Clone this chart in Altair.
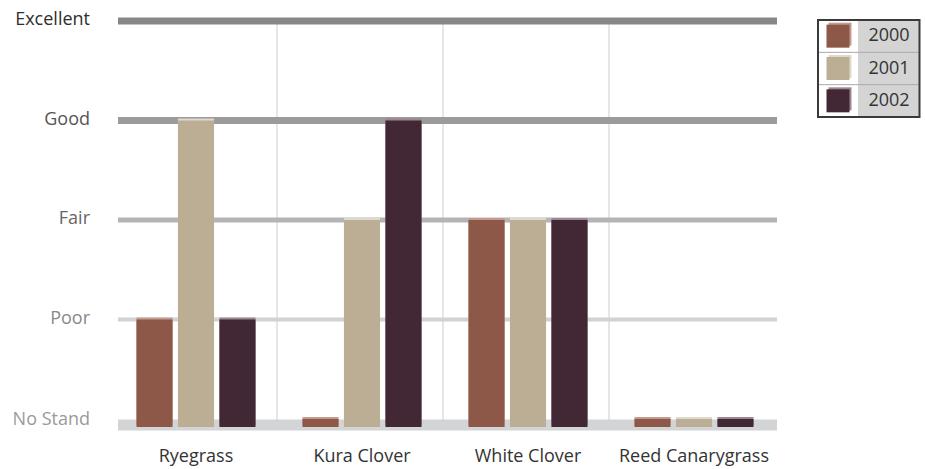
import altair as alt
import pandas as pd

# Stand ratings per crop and year (0 = No Stand ... 4 = Excellent)
crops = ["Ryegrass", "Kura Clover", "White Clover", "Reed Canarygrass"]
years = ["2000", "2001", "2002"]
rating_2000 = [1, 0, 2, 0]
rating_2001 = [3, 2, 2, 0]
rating_2002 = [1, 3, 2, 0]

levels = ["No Stand", "Poor", "Fair", "Good", "Excellent"]
level_values = [0, 1, 2, 3, 4]

# styling
FONT = "Open Sans"
fill_colors = ["#8e5849", "#bcae94", "#412834"]
edge_colors = ["#c49b90", "#dedacb", "#9b8692"]
grid_colors = ["#d3d4d6", "#d2d2d2", "#b4b4b4", "#9b9b9b", "#878787"]
grid_widths = [11, 4, 5, 7, 7]
label_colors = ["#9a9a9a", "#888888", "#666666", "#555555", "#2e2e2e"]

W, H = 664, 406
Y_MIN = -0.08

bars = pd.DataFrame({
    "crop": crops * 3,
    "year": [y for y in years for _ in crops],
    "rating": rating_2000 + rating_2001 + rating_2002,
})
bars["fill"] = bars["year"].map(dict(zip(years, fill_colors)))
bars["edge"] = bars["year"].map(dict(zip(years, edge_colors)))

grid = pd.DataFrame({
    "level": levels,
    "value": level_values,
    "gcolor": grid_colors,
    "gwidth": grid_widths,
    "lcolor": label_colors,
})

crop_df = pd.DataFrame({"crop": crops})

x_enc = alt.X("crop:N", sort=crops,
              scale=alt.Scale(domain=crops, paddingInner=0, paddingOuter=0),
              axis=None)
y_scale = alt.Scale(domain=[Y_MIN, 4], nice=False, zero=False)
y_enc = alt.Y("value:Q", scale=y_scale, axis=None)
x_off = alt.XOffset("year:N", sort=years,
                    scale=alt.Scale(domain=years, paddingInner=0.13, paddingOuter=0.566))

# vertical separators between crops
vlines = alt.Chart(crop_df[crop_df["crop"] != crops[0]]).mark_rule(
    color="#dedede", strokeWidth=1.5, xOffset=-2
).encode(
    x=alt.X("crop:N", sort=crops, bandPosition=0,
            scale=alt.Scale(domain=crops, paddingInner=0, paddingOuter=0), axis=None),
    y=alt.value(0),
    y2=alt.value(400),
)

# rating gridlines
hlines = alt.Chart(grid[grid["value"] > 0]).mark_rule().encode(
    y=y_enc,
    x=alt.value(5),
    x2=alt.value(W),
    color=alt.Color("gcolor:N", scale=None),
    strokeWidth=alt.StrokeWidth("gwidth:Q", scale=None),
)
base_band = alt.Chart(grid[grid["value"] == 0]).mark_rule(yOffset=6).encode(
    y=y_enc,
    x=alt.value(5),
    x2=alt.value(W),
    color=alt.Color("gcolor:N", scale=None),
    strokeWidth=alt.StrokeWidth("gwidth:Q", scale=None),
)

# bars: light edge behind, main fill on top
bar_y = alt.Y("rating:Q", scale=y_scale, axis=None)
bar_edge = alt.Chart(bars).mark_bar(xOffset=2, yOffset=-2, y2Offset=-2).encode(
    x=x_enc, xOffset=x_off, y=bar_y, y2=alt.datum(Y_MIN),
    color=alt.Color("edge:N", scale=None),
)
bar_fill = alt.Chart(bars).mark_bar().encode(
    x=x_enc, xOffset=x_off, y=bar_y, y2=alt.datum(Y_MIN),
    color=alt.Color("fill:N", scale=None),
)

# rating labels on the left
ylab = alt.Chart(grid[grid["value"] > 0]).mark_text(
    font=FONT, fontSize=18, align="right", baseline="middle", dy=-1
).encode(
    y=y_enc, x=alt.value(-23), text="level:N",
    color=alt.Color("lcolor:N", scale=None),
)
ylab0 = alt.Chart(grid[grid["value"] == 0]).mark_text(
    font=FONT, fontSize=18, align="right", baseline="middle", dy=1
).encode(
    y=y_enc, x=alt.value(-23), text="level:N",
    color=alt.Color("lcolor:N", scale=None),
)

# crop labels along the bottom
xlab = alt.Chart(crop_df).mark_text(
    font=FONT, fontSize=18, color="#333333", baseline="middle"
).encode(x=x_enc, y=alt.value(436), text="crop:N")

main = alt.layer(vlines, hlines, base_band, bar_edge, bar_fill, ylab, ylab0, xlab)

# legend box
leg = pd.DataFrame({"year": years, "fill": fill_colors, "edge": edge_colors})
leg_y_scale = alt.Scale(domain=years, range=[-1, 96], paddingInner=0, paddingOuter=0)
leg_y = alt.Y("year:N", sort=years, scale=leg_y_scale, axis=None)

leg_bg = alt.Chart(leg).mark_rect(color="#d4d4d4").encode(
    y=leg_y, x=alt.value(745), x2=alt.value(806),
)
leg_sep = alt.Chart(leg[leg["year"] != years[0]]).mark_rule(
    color="#a9a9a9", strokeWidth=1
).encode(
    y=alt.Y("year:N", sort=years, scale=leg_y_scale, axis=None, bandPosition=0),
    x=alt.value(705), x2=alt.value(806),
)
leg_edge = alt.Chart(leg).mark_square(size=529, opacity=1, xOffset=2, yOffset=-2).encode(
    y=leg_y, x=alt.value(725), color=alt.Color("edge:N", scale=None),
)
leg_sw = alt.Chart(leg).mark_square(size=529, opacity=1).encode(
    y=leg_y, x=alt.value(725), color=alt.Color("fill:N", scale=None),
)
leg_txt = alt.Chart(leg).mark_text(
    font=FONT, fontSize=18, color="#333333", baseline="middle", align="center"
).encode(y=leg_y, x=alt.value(776), text="year:N")
leg_box = alt.Chart(pd.DataFrame({"box": [0]})).mark_rect(
    fillOpacity=0, stroke="#3a3a3a", strokeWidth=2
).encode(
    x=alt.value(705), x2=alt.value(806.5), y=alt.value(-1), y2=alt.value(96),
)

legend = alt.layer(leg_bg, leg_sep, leg_edge, leg_sw, leg_txt, leg_box)

chart = alt.layer(main, legend).resolve_scale(y="independent").properties(
    width=W,
    height=H,
    padding={"left": 113, "top": 21, "right": 148, "bottom": 42},
    autosize=alt.AutoSizeParams(type="none"),
    background="white",
).configure_view(stroke=None)

chart.save("out.html", embed_options={"renderer": "svg", "actions": False})
